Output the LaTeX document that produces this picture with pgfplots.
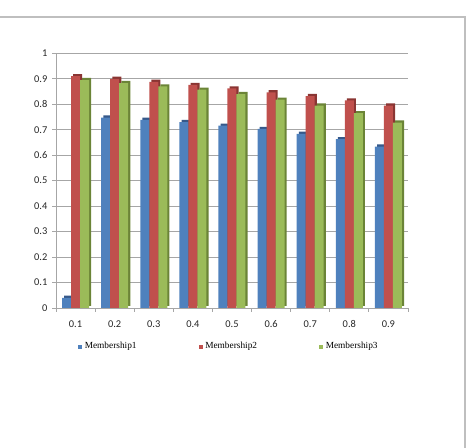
\documentclass[border=0pt]{standalone}
\usepackage{pgfplots}
\pgfplotsset{compat=1.18}
\usepackage{pgfplotstable}
\usepackage{fontspec}
\setmainfont{Liberation Serif}
\newfontfamily\carlito{Carlito}
\definecolor{mblue}{HTML}{4F81BD}
\definecolor{mred}{HTML}{C0504D}
\definecolor{mgreen}{HTML}{9BBB59}
\definecolor{dblue}{HTML}{36598A}
\definecolor{dred}{HTML}{8A3533}
\definecolor{dgreen}{HTML}{6B8437}
\definecolor{framegray}{HTML}{BFBFBF}
\definecolor{gridgray}{HTML}{A6A6A6}
\pgfplotstableread{
x m1 m2 m3
0 0.040 0.910 0.895
1 0.748 0.900 0.883
2 0.739 0.888 0.870
3 0.730 0.876 0.857
4 0.716 0.862 0.840
5 0.703 0.847 0.818
6 0.684 0.832 0.795
7 0.663 0.815 0.765
8 0.634 0.795 0.728
}\data
\begin{document}
\begin{tikzpicture}
\path[use as bounding box] (0,0) rectangle (350.25pt,336pt);
\draw[framegray, line width=1.1pt] (-2pt,323.25pt) -- (348.75pt,323.25pt) -- (348.75pt,-2pt);
\begin{axis}[
  at={(42pt,105pt)}, anchor=south west,
  scale only axis, width=264pt, height=191pt,
  ybar=0pt, bar width=6.75pt,
  xmin=-0.5, xmax=8.5, ymin=0, ymax=1,
  xtick={0,...,8},
  xticklabels={0.1,0.2,0.3,0.4,0.5,0.6,0.7,0.8,0.9},
  minor xtick={-0.5,0.5,...,8.5},
  ytick={0,0.1,...,1.01},
  yticklabel style={/pgf/number format/fixed, /pgf/number format/precision=1},
  xticklabel style={text height=5.5pt, text depth=0pt, yshift=-2.5pt},
  ticklabel style={font=\carlito\fontsize{7.8}{9}\selectfont, text=black!85},
  /pgf/number format/assume math mode=true,
  axis x line*=bottom, axis y line*=left,
  axis line style={gridgray, line width=0.6pt},
  tick align=outside,
  major tick length=3pt, minor tick length=3pt,
  major x tick style={draw=none},
  minor x tick style={gridgray, line width=0.6pt},
  y tick style={gridgray, line width=0.6pt},
  ymajorgrids, grid style={gridgray, line width=0.6pt},
  legend columns=3,
  legend image code/.code={\draw[#1, draw=none] (0pt,-1.5pt) rectangle (3pt,1.5pt);},
  legend style={at={(0.062,-0.152)}, anchor=west, draw=none, fill=none,
    font=\fontsize{7}{8}\selectfont, inner sep=0pt,
    /tikz/every even column/.append style={column sep=44.5pt}},
]
\addplot[fill=dblue, draw=none, bar shift=-6.75pt, xshift=1.6pt, yshift=1.6pt, forget plot] table[x=x,y=m1]{\data};
\addplot[fill=mblue, draw=none, bar shift=-6.75pt] table[x=x,y=m1]{\data};
\addplot[fill=dred, draw=none, bar shift=0pt, xshift=1.6pt, yshift=1.6pt, forget plot] table[x=x,y=m2]{\data};
\addplot[fill=mred, draw=none, bar shift=0pt] table[x=x,y=m2]{\data};
\addplot[fill=dgreen, draw=none, bar shift=6.75pt, xshift=1.6pt, yshift=1.6pt, forget plot] table[x=x,y=m3]{\data};
\addplot[fill=mgreen, draw=none, bar shift=6.75pt] table[x=x,y=m3]{\data};
\legend{Membership1,Membership2,Membership3}
\end{axis}
\end{tikzpicture}
\end{document}
